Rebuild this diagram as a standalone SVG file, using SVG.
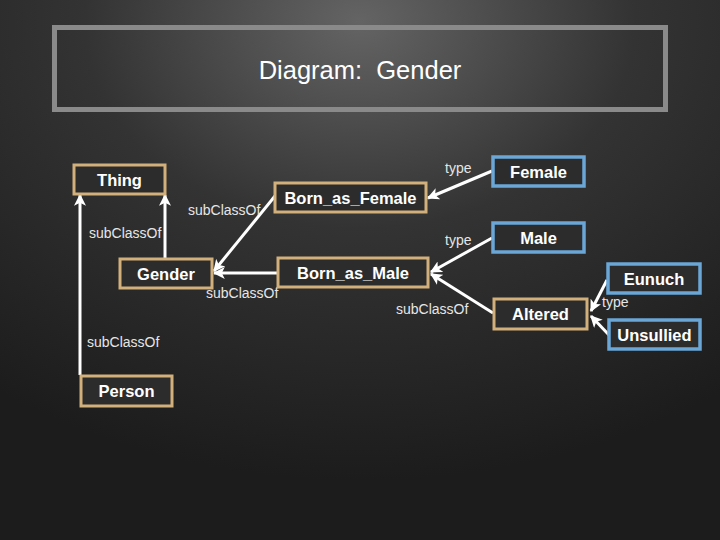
<svg xmlns="http://www.w3.org/2000/svg" width="720" height="540" viewBox="0 0 720 540">
<defs>
  <radialGradient id="bg" cx="50%" cy="4%" r="85%" gradientTransform="translate(0,0)">
    <stop offset="0" stop-color="#646464"/>
    <stop offset="0.45" stop-color="#333333"/>
    <stop offset="1" stop-color="#1c1c1c"/>
  </radialGradient>
  <marker id="arr" viewBox="0 0 10 10" refX="9" refY="5" markerWidth="4" markerHeight="4" orient="auto" markerUnits="strokeWidth">
    <path d="M0,0 L10,5 L0,10 L2.5,5 Z" fill="#ffffff"/>
  </marker>
  <style>
    .cls rect { fill: #2c2c2c; stroke: #d2b07c; stroke-width: 3; }
    .ind rect { fill: #2c2c2c; stroke: #6aa6d6; stroke-width: 3.5; }
    .node text { font-family: "Liberation Sans", Arial, sans-serif; font-size: 16.5px; font-weight: bold; fill: #ffffff; text-anchor: middle; }
    .edges path { stroke: #ffffff; stroke-width: 3; fill: none; marker-end: url(#arr); }
    .lbl { font-family: "Liberation Sans", Arial, sans-serif; font-size: 14px; fill: #e6e6e6; }
  </style>
</defs>
<rect x="0" y="0" width="720" height="540" fill="url(#bg)"/>

<g id="title">
  <rect x="54.5" y="27.5" width="611" height="82" fill="none" stroke="#8a8a8a" stroke-width="5"/>
  <text x="360" y="79" font-family="Liberation Sans, Arial, sans-serif" font-size="25.5" fill="#ffffff" text-anchor="middle" xml:space="preserve">Diagram:  Gender</text>
</g>

<g class="edges">
  <path d="M165,258 L165,195"/>
  <path d="M80,375 L80,195"/>
  <path d="M275,196 L214,271"/>
  <path d="M277,273 L214,273"/>
  <path d="M492,171 L428,198"/>
  <path d="M492,238 L431,272"/>
  <path d="M493,313 L431,274"/>
  <path d="M607,280 L591,311"/>
  <path d="M609,335 L591,316"/>
</g>

<g id="labels">
  <text class="lbl" x="89" y="238">subClassOf</text>
  <text class="lbl" x="87" y="347">subClassOf</text>
  <text class="lbl" x="188" y="215">subClassOf</text>
  <text class="lbl" x="206" y="298">subClassOf</text>
  <text class="lbl" x="396" y="314">subClassOf</text>
  <text class="lbl" x="445" y="173">type</text>
  <text class="lbl" x="445" y="245">type</text>
  <text class="lbl" x="602" y="307">type</text>
</g>

<g id="Thing" class="node cls"><rect x="74" y="165" width="91" height="29"/><text x="119.5" y="186">Thing</text></g>
<g id="Gender" class="node cls"><rect x="120" y="259" width="92" height="29"/><text x="166" y="280">Gender</text></g>
<g id="Person" class="node cls"><rect x="81" y="376" width="91" height="30"/><text x="126.5" y="397">Person</text></g>
<g id="Born_as_Female" class="node cls"><rect x="275" y="183" width="151" height="29"/><text x="350.5" y="204">Born_as_Female</text></g>
<g id="Born_as_Male" class="node cls"><rect x="278" y="258" width="150" height="29"/><text x="353" y="279">Born_as_Male</text></g>
<g id="Altered" class="node cls"><rect x="494" y="299" width="93" height="30"/><text x="540.5" y="320">Altered</text></g>
<g id="Female" class="node ind"><rect x="493" y="157" width="91" height="29"/><text x="538.5" y="178">Female</text></g>
<g id="Male" class="node ind"><rect x="493" y="223" width="91" height="29"/><text x="538.5" y="244">Male</text></g>
<g id="Eunuch" class="node ind"><rect x="608" y="264" width="92" height="29"/><text x="654" y="285">Eunuch</text></g>
<g id="Unsullied" class="node ind"><rect x="609" y="320" width="91" height="29"/><text x="654.5" y="341">Unsullied</text></g>
</svg>
